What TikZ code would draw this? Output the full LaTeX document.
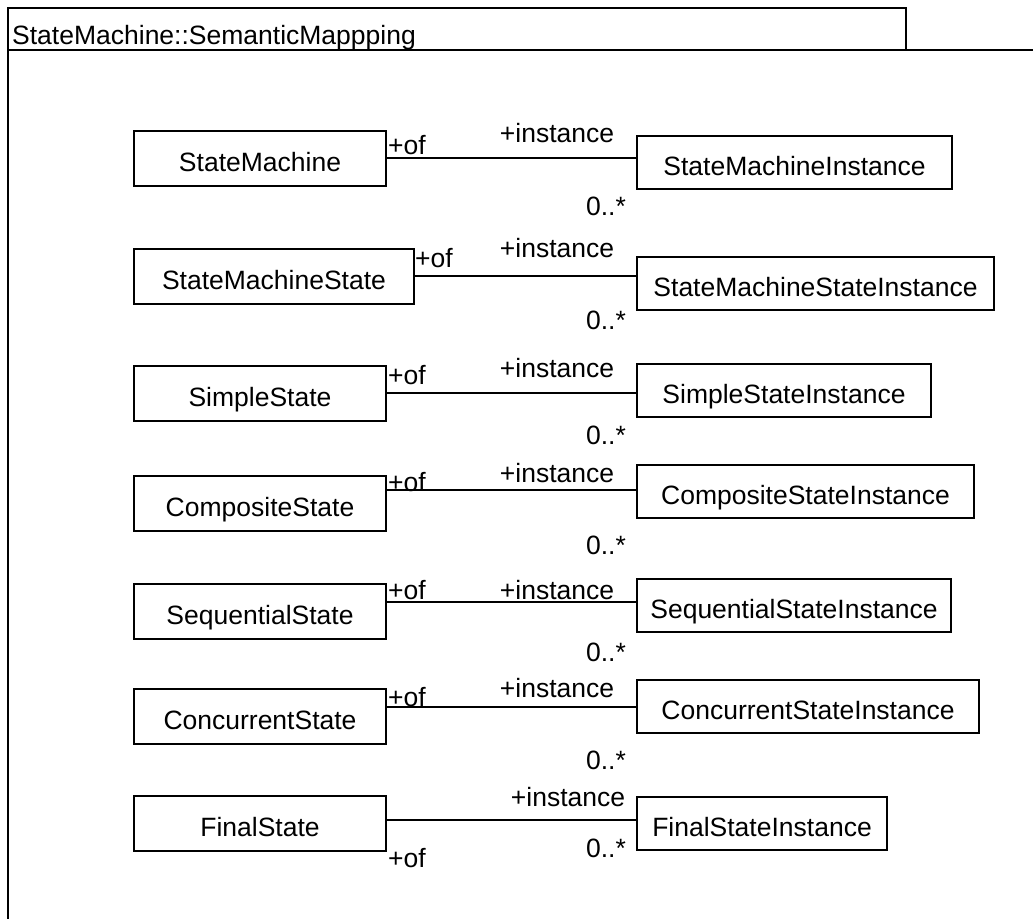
\documentclass[tikz,border=0pt]{standalone}
\usepackage{fontspec}
\setmainfont{Liberation Sans}
\usetikzlibrary{positioning}
\tikzset{
  umlfont/.style={font=\fontsize{26.5}{31}\selectfont},
  frame/.style={draw, line width=2pt},
  cls/.style={draw, line width=2pt, umlfont, inner sep=4pt, anchor=west,
              text height=27pt, text depth=0pt},
  lcls/.style={cls, minimum width=252pt, minimum height=55pt},
  rcls/.style={cls, minimum height=53pt},
  assoc/.style={line width=2pt},
  role/.style={umlfont, inner sep=0pt},
}

\begin{document}
\begin{tikzpicture}[x=1pt, y=-1pt]
  \useasboundingbox (0,0) rectangle (1033,918);
  \begin{scope}
    \clip (0,0) rectangle (1033,918);
    \draw[frame] (8,8) rectangle (906,50);
    \draw[frame] (8,50) rectangle (1100,1000);
  \end{scope}
  \node[role, anchor=base west] (title) at (12,44) {StateMachine::SemanticMappping};

  \node[lcls] (l1) at (133,158) {StateMachine};
  \node[rcls, minimum width=315pt] (r1) at (636,162) {StateMachineInstance};
  \draw[assoc] (l1.east) -- (l1.east -| r1.west);
  \node[role] (of1) at (407,145) {+of};
  \node[role] (in1) at (557,133) {+instance};
  \node[role] (m1) at (606,206) {0..*};

  \node[lcls, minimum width=280pt] (l2) at (133,276) {StateMachineState};
  \node[rcls, minimum width=357pt] (r2) at (636,283) {StateMachineStateInstance};
  \draw[assoc] (l2.east) -- (l2.east -| r2.west);
  \node[role] (of2) at (434,258) {+of};
  \node[role] (in2) at (557,248) {+instance};
  \node[role] (m2) at (606,320) {0..*};

  \node[lcls] (l3) at (133,393) {SimpleState};
  \node[rcls, minimum width=294pt] (r3) at (636,390) {SimpleStateInstance};
  \draw[assoc] (l3.east) -- (l3.east -| r3.west);
  \node[role] (of3) at (407,375) {+of};
  \node[role] (in3) at (557,368) {+instance};
  \node[role] (m3) at (606,435) {0..*};

  \node[lcls] (l4) at (133,503) {CompositeState};
  \node[rcls, minimum width=337pt] (r4) at (636,491) {CompositeStateInstance};
  \draw[assoc] ([yshift=13pt]l4.east) coordinate (s4) -- (s4 -| r4.west);
  \node[role] (of4) at (407,482) {+of};
  \node[role] (in4) at (557,473) {+instance};
  \node[role] (m4) at (606,545) {0..*};

  \node[lcls] (l5) at (133,611) {SequentialState};
  \node[rcls, minimum width=314pt] (r5) at (636,605) {SequentialStateInstance};
  \draw[assoc] ([yshift=9pt]l5.east) coordinate (s5) -- (s5 -| r5.west);
  \node[role] (of5) at (407,590) {+of};
  \node[role] (in5) at (557,590) {+instance};
  \node[role] (m5) at (606,652) {0..*};

  \node[lcls] (l6) at (133,716) {ConcurrentState};
  \node[rcls, minimum width=342pt] (r6) at (636,706) {ConcurrentStateInstance};
  \draw[assoc] ([yshift=9pt]l6.east) coordinate (s6) -- (s6 -| r6.west);
  \node[role] (of6) at (407,697) {+of};
  \node[role] (in6) at (557,688) {+instance};
  \node[role] (m6) at (606,760) {0..*};

  \node[lcls] (l7) at (133,823) {FinalState};
  \node[rcls, minimum width=250pt] (r7) at (636,823) {FinalStateInstance};
  \draw[assoc] ([yshift=3pt]l7.east) coordinate (s7) -- (s7 -| r7.west);
  \node[role] (of7) at (407,858) {+of};
  \node[role] (in7) at (568,797) {+instance};
  \node[role] (m7) at (606,848) {0..*};
\end{tikzpicture}
\end{document}
